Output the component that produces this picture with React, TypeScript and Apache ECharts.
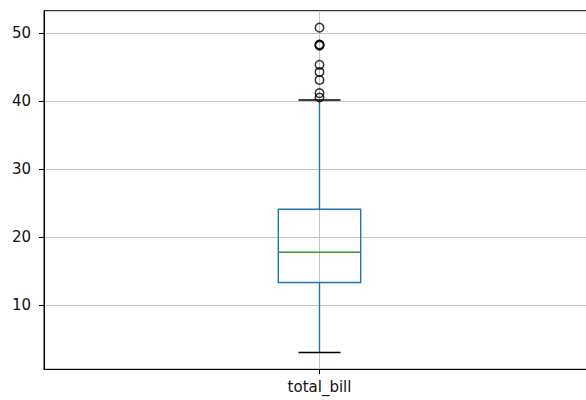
import React, { useEffect, useRef } from "react";
import * as echarts from "echarts";

const categories = ["total_bill"];
// lower whisker, Q1, median, Q3, upper whisker
const boxStats = [[3.07, 13.3475, 17.795, 24.1275, 40.17]];
const outliers = [40.55, 41.19, 43.11, 44.3, 45.35, 48.17, 48.27, 48.33, 50.81];
const yTicks = [10, 20, 30, 40, 50];

export default function App() {
  const ref = useRef<HTMLDivElement>(null);
  useEffect(() => {
    const chart = echarts.init(ref.current!, null, { renderer: "svg" });
    const font = "DejaVu Sans";
    const labelColor = "#111";
    chart.setOption({
      animation: false,
      backgroundColor: "#ffffff",
      grid: {
        left: 44,
        right: 105,
        top: 10.7,
        bottom: 30.7,
        show: true,
        borderColor: "#000",
        borderWidth: 1,
        backgroundColor: "transparent",
      },
      xAxis: {
        type: "value",
        min: 0,
        max: 2,
        interval: 1,
        axisLine: { show: true, onZero: false, lineStyle: { color: "#000", width: 1 } },
        axisTick: { show: true, customValues: [1], length: 5, lineStyle: { color: "#000", width: 1 } },
        axisLabel: {
          customValues: [1],
          formatter: () => categories[0],
          fontFamily: font,
          fontSize: 15,
          color: labelColor,
          margin: 10,
        },
        splitLine: { show: true, lineStyle: { color: "#c4c4c4", width: 1 } },
      },
      yAxis: {
        type: "value",
        min: 0.6,
        max: 53.3,
        axisLine: { show: true, onZero: false, lineStyle: { color: "#000", width: 1 } },
        axisTick: { show: true, customValues: yTicks, length: 5, lineStyle: { color: "#000", width: 1 } },
        axisLabel: {
          customValues: yTicks,
          fontFamily: font,
          fontSize: 15,
          color: labelColor,
          margin: 13,
        },
        splitLine: { show: true, lineStyle: { color: "#c4c4c4", width: 1 } },
      },
      series: [
        {
          type: "custom",
          data: boxStats.map((s) => [1, ...s]),
          encode: { x: 0, y: [1, 2, 3, 4, 5] },
          z: 3,
          renderItem: (_params: any, api: any) => {
            const x = api.value(0);
            const lo = api.coord([x, api.value(1)]);
            const q1 = api.coord([x, api.value(2)]);
            const med = api.coord([x, api.value(3)]);
            const q3 = api.coord([x, api.value(4)]);
            const hi = api.coord([x, api.value(5)]);
            const cx = lo[0];
            const bw = 41.2;
            const cw = 21;
            const blue = "#1f77b4";
            const lw = 1.4;
            return {
              type: "group",
              children: [
                { type: "line", shape: { x1: cx, y1: lo[1], x2: cx, y2: q1[1] }, style: { stroke: blue, lineWidth: lw } },
                { type: "line", shape: { x1: cx, y1: q3[1], x2: cx, y2: hi[1] }, style: { stroke: blue, lineWidth: lw } },
                { type: "line", shape: { x1: cx - cw, y1: lo[1], x2: cx + cw, y2: lo[1] }, style: { stroke: "#000", lineWidth: lw } },
                { type: "line", shape: { x1: cx - cw, y1: hi[1], x2: cx + cw, y2: hi[1] }, style: { stroke: "#000", lineWidth: lw } },
                {
                  type: "rect",
                  shape: { x: cx - bw, y: q3[1], width: 2 * bw, height: q1[1] - q3[1] },
                  style: { fill: "none", stroke: blue, lineWidth: lw },
                },
                { type: "line", shape: { x1: cx - bw, y1: med[1], x2: cx + bw, y2: med[1] }, style: { stroke: "#2ca02c", lineWidth: lw } },
              ],
            };
          },
        },
        {
          type: "scatter",
          data: outliers.map((v) => [1, v]),
          symbol: "circle",
          symbolSize: 8.5,
          z: 4,
          itemStyle: { color: "none", borderColor: "#000", borderWidth: 1.5 },
        },
      ],
    });
    return () => chart.dispose();
  }, []);
  return (
    <div style={{ position: "fixed", left: 0, top: 0, width: 586, height: 400, overflow: "hidden", background: "#fff" }}>
      <div ref={ref} style={{ width: 700, height: 400 }} />
    </div>
  );
}
